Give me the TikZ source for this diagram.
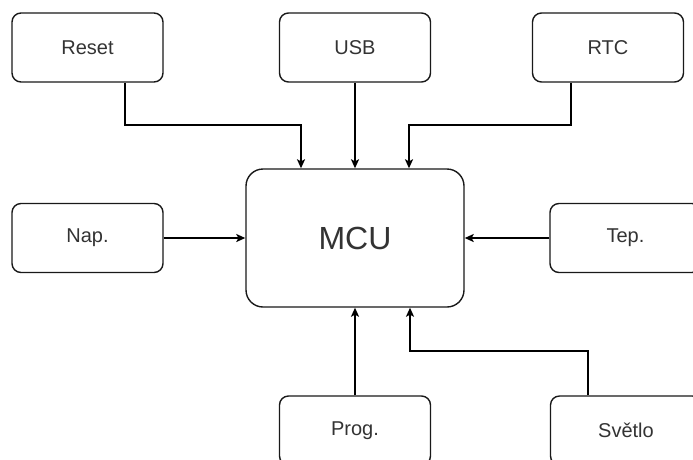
\documentclass[tikz,border=0pt]{standalone}
\usepackage{fontspec}
\setmainfont{Liberation Sans}
\usepackage{tikz}
\usetikzlibrary{
  arrows.meta,
  positioning
}

\begin{document}
\begin{tikzpicture}[
      x=1pt,y=-1pt,
      block/.style={
         rectangle,
         rounded corners=9pt,
         draw=black!90,
         line width=1.4pt,
         minimum width=151pt,
         minimum height=69pt,
         text=black!80,
         font=\fontsize{20}{24}\selectfont,
      },
      mcu/.style={
         block,
         rounded corners=17pt,
         minimum width=218pt,
         minimum height=138pt,
         font=\fontsize{32}{38}\selectfont,
      },
      point/.style={coordinate},
      tip/.style={-{Stealth[length=9pt,width=8pt,inset=2pt]},line width=1.5pt},
    ]
    \useasboundingbox (0,0) rectangle (693,459);

    % blocks
    \node (mcu)    [mcu]   at (355,238)   {MCU};
    \node (reset)  [block] at (87.5,47.5) {Reset};
    \node (usb)    [block] at (355,47.5)  {USB};
    \node (rtc)    [block] at (608,47.5)  {RTC};
    \node (nap)    [block] at (87.5,238)  {Nap.};
    \node (tep)    [block] at (625.5,238) {Tep.};
    \node (prog)   [block] at (355,430.5) {Prog.};
    \node (svetlo) [block] at (626,430.5) {Světlo};

    % bends
    \node (resetdown) [point] at (125,125) {};
    \node (resetin)   [point] at (301,125) {};
    \node (rtcdown)   [point] at (571,125) {};
    \node (rtcin)     [point] at (409,125) {};
    \node (svetloup)  [point] at (588,351) {};
    \node (svetloin)  [point] at (410,351) {};

    % connectors
    \draw[tip] (reset.south -| resetdown) -- (resetdown) -- (resetin) -- (mcu.north -| resetin);
    \draw[tip] (usb) -- (mcu);
    \draw[tip] (rtc.south -| rtcdown) -- (rtcdown) -- (rtcin) -- (mcu.north -| rtcin);
    \draw[tip] (nap) -- (mcu);
    \draw[tip] (tep) -- (mcu);
    \draw[tip] (prog) -- (mcu);
    \draw[tip] (svetlo.north -| svetloup) -- (svetloup) -- (svetloin) -- (mcu.south -| svetloin);
\end{tikzpicture}
\end{document}
